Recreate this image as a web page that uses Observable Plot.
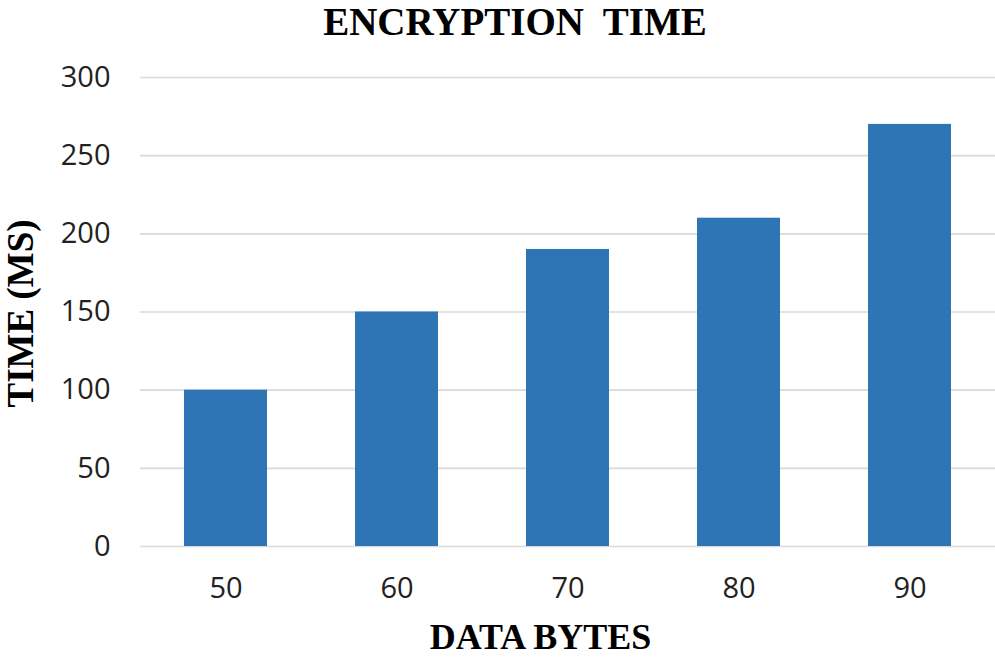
<!DOCTYPE html>
<html>
<head>
<meta charset="utf-8">
<script src="https://cdn.jsdelivr.net/npm/d3@7"></script>
<script src="https://cdn.jsdelivr.net/npm/@observablehq/plot@0.6"></script>
<style>
  html, body { margin: 0; padding: 0; background: #ffffff; }
  #wrap { width: 995px; height: 657px; overflow: hidden; }
  #title {
    width: 995px; height: 44px; line-height: 44px;
    font-family: "Liberation Serif", "Times New Roman", serif;
    font-weight: bold; font-size: 39px; color: #000;
    text-align: center; white-space: pre;
    padding-left: 35px; box-sizing: border-box;
  }
</style>
</head>
<body>
<div id="wrap">
  <div id="title">ENCRYPTION  TIME</div>
  <div id="chart"></div>
</div>
<script>
const categories = ["50", "60", "70", "80", "90"];
const times = [100, 150, 190, 210, 270];
const yTicks = [0, 50, 100, 150, 200, 250, 300];
const xLabel = "DATA BYTES";
const yLabel = "TIME (MS)";

const data = categories.map((c, i) => ({bytes: c, time: times[i]}));

const chart = Plot.plot({
  width: 995,
  height: 613,
  marginLeft: 140,
  marginRight: 0,
  marginTop: 33,
  marginBottom: 111,
  style: {fontFamily: "'Open Sans', sans-serif", fontSize: "29px", color: "#222", background: "#fff"},
  x: {domain: categories, paddingInner: 0.515, paddingOuter: 0.2575, label: null},
  y: {domain: [0, 300], label: null},
  marks: [
    Plot.ruleY(yTicks, {stroke: "#d9d9d9", strokeWidth: 1.6}),
    Plot.barY(data, {x: "bytes", y: "time", fill: "#2e75b6"}),
    Plot.axisY({ticks: yTicks, tickSize: 0, tickPadding: 30, label: null, fontSize: 29}),
    Plot.axisX({tickSize: 0, tickPadding: 31, label: null, fontSize: 29}),
    Plot.text([xLabel], {
      frameAnchor: "bottom", dx: -27.5, dy: 90.5, lineAnchor: "middle", textAnchor: "middle",
      fontFamily: "'Liberation Serif', 'Times New Roman', serif",
      fontWeight: "bold", fontSize: 36, fill: "#000"
    }),
    Plot.text([yLabel], {
      frameAnchor: "left", dx: -119, dy: 1.5, rotate: -90, lineAnchor: "middle", textAnchor: "middle",
      fontFamily: "'Liberation Serif', 'Times New Roman', serif",
      fontWeight: "bold", fontSize: 37, fill: "#000"
    })
  ]
});
document.getElementById("chart").appendChild(chart);
</script>
</body>
</html>
